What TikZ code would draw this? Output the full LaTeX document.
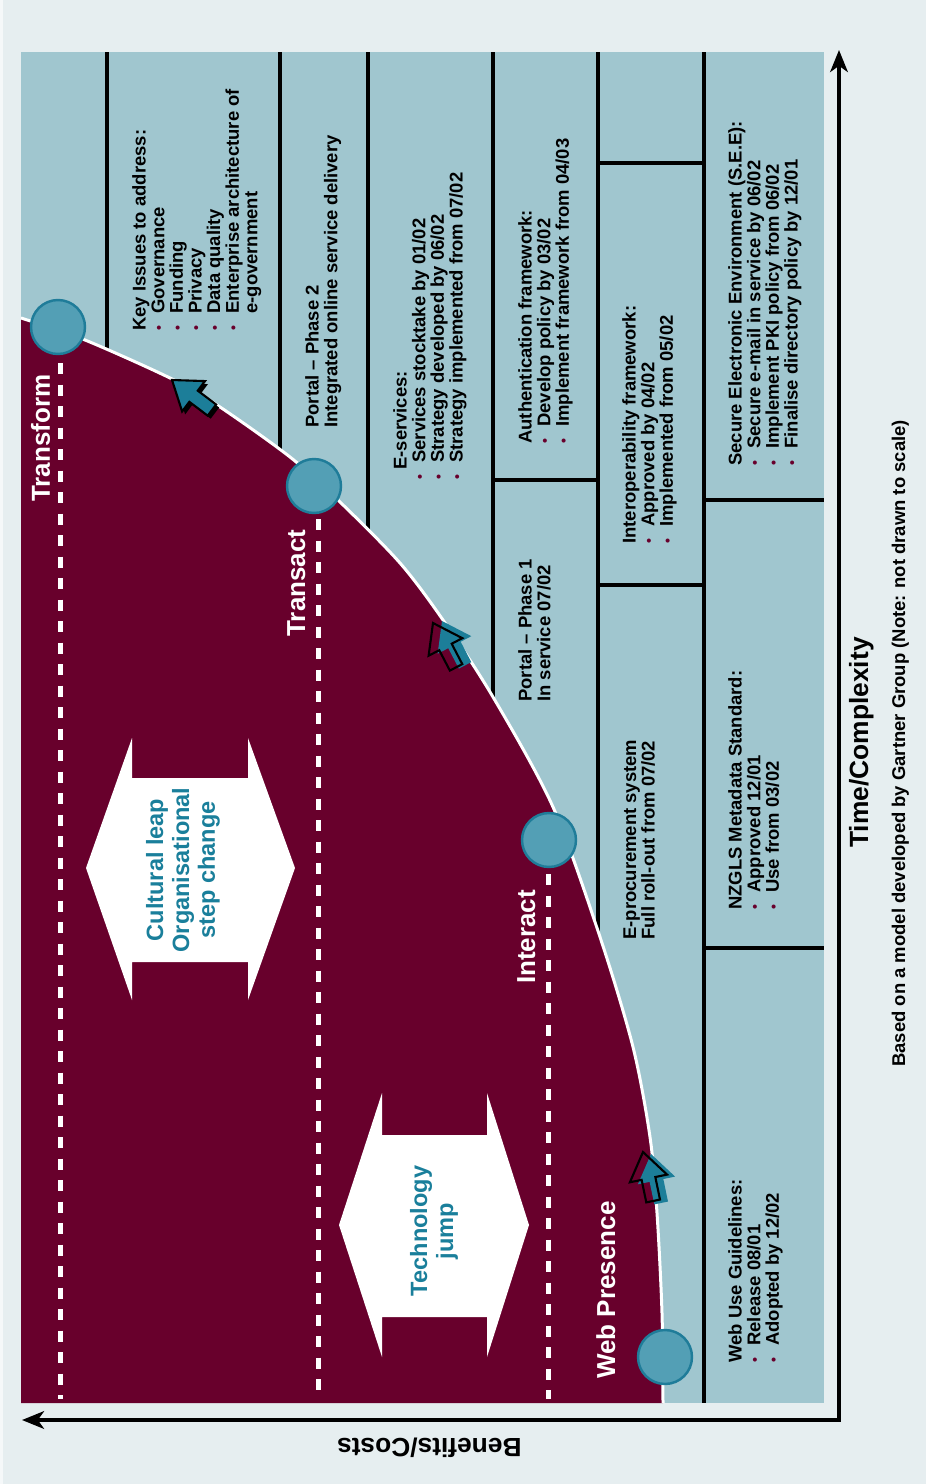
\documentclass[tikz,border=0pt]{standalone}
\usepackage{fontspec}
\setmainfont{Liberation Sans}
\usetikzlibrary{arrows.meta,positioning,calc}

\definecolor{bgcol}{HTML}{E6EEF0}
\definecolor{panel}{HTML}{A0C6CF}
\definecolor{wine}{HTML}{68002C}
\definecolor{dotfill}{HTML}{539FB5}
\definecolor{dotline}{HTML}{1F7C99}
\definecolor{tealtxt}{HTML}{1A7F9B}
\definecolor{cursorteal}{HTML}{1C7E99}

% bullet for the milestone lists
\newcommand{\itm}{\makebox[0.34cm][l]{\raisebox{0.4pt}{\textcolor{wine}{\footnotesize\textbullet}}}}

\tikzset{
  note/.style={rotate=90, anchor=north west, align=left, inner sep=0pt,
    font=\fontsize{10.5}{10.6}\selectfont\bfseries},
  stage/.style={rotate=90, anchor=base, inner sep=0pt, text=white,
    font=\fontsize{14.8}{16}\selectfont\bfseries},
  leap/.style={rotate=90, align=center, inner sep=0pt, text=tealtxt,
    font=\fontsize{13.4}{14.7}\selectfont\bfseries},
  milestone/.style={circle, minimum size=1.08cm, inner sep=0pt,
    fill=dotfill, draw=dotline, line width=1.4pt},
  divider/.style={line width=2.2pt},
  stagedash/.style={white, line width=0.1cm, dash pattern=on 0.22cm off 0.21cm},
  axistip/.tip={Stealth[length=12.5pt, width=10pt, inset=3.5pt]},
  cursorarrow/.pic={
    \path[pic actions] (0,0) -- (19,27) -- (7,27) -- (7,50) -- (-7,50)
      -- (-7,27) -- (-19,27) -- cycle;
  }
}

\begin{document}
\begin{tikzpicture}[x=0.02cm, y=-0.02cm]
  % backdrop and chart panel
  \fill[bgcol] (0,0) rectangle (926,1484);
  \useasboundingbox (0,0) rectangle (926,1484);
  \fill[bgcol!40!white] (0,0) rectangle (3,1484);
  \fill[panel] (21,52) rectangle (824,1403);

  % column dividers
  \foreach \x in {107,280,368,493,598,704}
    \draw[divider] (\x,52) -- (\x,1403);
  \draw[divider] (598,163) -- (704,163);
  \draw[divider] (493,480) -- (598,480);
  \draw[divider] (598,585) -- (704,585);
  \draw[divider] (704,500) -- (824,500);
  \draw[divider] (704,948) -- (824,948);

  % the growth curve
  \fill[wine] plot[smooth] coordinates {(21,318) (85,340) (170,378) (217,405)
    (290,457) (340,502) (400,563) (443,620) (493,697) (553,807) (600,937)
    (633,1047) (650,1137) (657,1213) (662,1313) (663,1403)} -- (21,1403) -- cycle;
  \draw[white, line width=0.06cm] plot[smooth] coordinates {(21,318) (85,340)
    (170,378) (217,405) (290,457) (340,502) (400,563) (443,620) (493,697)
    (553,807) (600,937) (633,1047) (650,1137) (657,1213) (662,1313) (663,1403)};

  % stages
  \node[milestone] (transform) at (58,327) {};
  \node[milestone] (transact) at (314,486) {};
  \node[milestone] (interact) at (549,840) {};
  \node[milestone] (web) at (665,1357) {};
  \draw[stagedash] (transform.south) ++(2,8) -- ++(0,1036);
  \draw[stagedash] (transact.south) ++(4,5) -- ++(0,880);
  \draw[stagedash] (interact.south) ++(-1,6) -- ++(0,525);

  \node[stage] (lbltransform) at (50,438) {Transform};
  \node[stage] (lbltransact) at (305,583) {Transact};
  \node[stage] (lblinteract) at (535,937) {Interact};
  \node[stage] (lblweb) at (615,1290) {Web Presence};

  % the two leaps
  \fill[white] (86,868) -- (132,738) -- (132,778) -- (248,778) -- (248,738)
    -- (295,868) -- (248,1000) -- (248,962) -- (132,962) -- (132,1000) -- cycle;
  \node[leap] (culture) at (183,870) {Cultural leap\\Organisational\\step change};
  \fill[white] (339,1225) -- (382,1093) -- (382,1135) -- (487,1135) -- (487,1093)
    -- (529,1225) -- (487,1357) -- (487,1317) -- (382,1317) -- (382,1357) -- cycle;
  \node[leap] (techjump) at (434,1231) {Technology\\jump};

  % pointers on the curve
  \pic[fill=black, rotate=53] at (175,383) {cursorarrow};
  \pic[fill=cursorteal, draw=black, line width=1.2pt, rotate=53] at (172,380) {cursorarrow};
  \pic[fill=wine, rotate=27.5] at (433,623) {cursorarrow};
  \pic[fill=cursorteal, rotate=27.5] at (442,621) {cursorarrow};
  \pic[draw=black, line width=1.2pt, rotate=27.5] at (433,623) {cursorarrow};
  \pic[fill=wine, rotate=11.7] at (643,1152) {cursorarrow};
  \pic[fill=cursorteal, rotate=11.7] at (651,1154) {cursorarrow};
  \pic[draw=black, line width=1.2pt, rotate=11.7] at (643,1152) {cursorarrow};

  % milestones
  \node[note] (keyissues) at (132,331) {Key Issues to address:\\
    \itm Governance\\ \itm Funding\\ \itm Privacy\\ \itm Data quality\\
    \itm Enterprise architecture of\\ \hspace*{0.34cm}e-government};
  \node[note] (portaltwo) at (305,428) {Portal -- Phase 2\\
    Integrated online service delivery};
  \node[note] (eservices) at (393,480) {\hspace*{0.2cm}E-services:\\
    \itm Services stocktake by 01/02\\ \itm Strategy developed by 06/02\\
    \itm Strategy implemented from 07/02};
  \node[note] (authfw) at (518,444) {Authentication framework:\\
    \itm Develop policy by 03/02\\ \itm Implement framework from 04/03};
  \node[note] (portalone) at (518,702) {Portal -- Phase 1\\ In service 07/02};
  \node[note] (interop) at (622,544) {Interoperability framework:\\
    \itm Approved by 04/02\\ \itm Implemented from 05/02};
  \node[note] (eproc) at (623,940) {E-procurement system\\ Full roll-out from 07/02};
  \node[note] (see) at (728,466) {Secure Electronic Environment (S.E.E):\\
    \itm Secure e-mail in service by 06/02\\ \itm Implement PKI policy from 06/02\\
    \itm Finalise directory policy by 12/01};
  \node[note] (nzgls) at (728,910) {NZGLS Metadata Standard:\\
    \itm Approved 12/01\\ \itm Use from 03/02};
  \node[note] (webuse) at (728,1363) {Web Use Guidelines:\\
    \itm Release 08/01\\ \itm Adopted by 12/02};

  % axes
  \coordinate (origin) at (839,1420);
  \coordinate (timeend) at (839,50);
  \coordinate (benefitend) at (22,1420);
  \draw[line width=2.2pt, axistip-axistip] (benefitend) -- (origin) -- (timeend);
  \node[rotate=90, anchor=base west, inner sep=0pt,
    font=\fontsize{15}{16}\selectfont\bfseries] (timelbl) at (868,848) {Time/Complexity};
  \node[rotate=90, anchor=base west, inner sep=0pt,
    font=\fontsize{10.5}{11}\selectfont\bfseries] (notelbl) at (905,1067)
    {Based on a model developed by Gartner Group (Note: not drawn to scale)};
  \node[rotate=180, anchor=base west, inner sep=0pt,
    font=\fontsize{15}{16}\selectfont\bfseries] (benefitlbl) at (522,1438) {Benefits/Costs};
\end{tikzpicture}
\end{document}
